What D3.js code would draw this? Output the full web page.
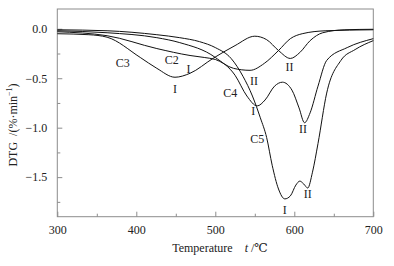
<!DOCTYPE html>
<html>
<head>
<meta charset="utf-8">
<script src="https://cdn.jsdelivr.net/npm/d3@7"></script>
<style>
  body { margin: 0; background: #fff; }
  svg { display: block; font-family: "Liberation Serif", "DejaVu Serif", serif; }
</style>
</head>
<body>
<svg id="chart" width="394" height="266"></svg>
<script>
// temperature (°C) / DTG (%·min-1)
const c2 = [[300,-0.03],[363,-0.07],[426,-0.20],[468,-0.27],[486,-0.29],[500,-0.31],[523,-0.40],[544,-0.42],[562,-0.35],[580,-0.22],[595,-0.10],[610,-0.05],[640,-0.02],[700,-0.01]];
const c3 = [[300,-0.05],[340,-0.06],[363,-0.085],[405,-0.29],[426,-0.40],[449,-0.49],[468,-0.45],[497,-0.30],[525,-0.17],[550,-0.075],[565,-0.11],[580,-0.22],[595,-0.30],[607,-0.24],[620,-0.12],[636,-0.04],[664,-0.01],[700,-0.005]];
const c4 = [[300,-0.02],[363,-0.04],[426,-0.09],[455,-0.14],[500,-0.29],[525,-0.47],[540,-0.68],[553,-0.78],[563,-0.72],[575,-0.58],[585,-0.54],[597,-0.62],[606,-0.80],[613,-0.95],[620,-0.85],[630,-0.58],[641,-0.32],[667,-0.19],[700,-0.10]];
const c5 = [[300,-0.01],[363,-0.02],[426,-0.06],[455,-0.09],[480,-0.13],[500,-0.19],[520,-0.30],[535,-0.48],[547,-0.68],[557,-0.90],[565,-1.10],[572,-1.38],[580,-1.62],[588,-1.72],[595,-1.69],[602,-1.58],[607,-1.54],[612,-1.57],[617,-1.61],[623,-1.45],[630,-1.16],[641,-0.65],[659,-0.32],[677,-0.21],[700,-0.12]];
const series = [c2, c3, c4, c5];

const xTicks = [300, 400, 500, 600, 700];
const xMinor = [350, 450, 550, 650];
const yTicks = [0, -0.5, -1.0, -1.5];
const yMinor = [-0.25, -0.75, -1.25, -1.75];

// curve labels [text, temperature, DTG]
const labels = [
  ["C3", 383, -0.34], ["C2", 445, -0.31], ["I", 466, -0.40], ["I", 449, -0.61],
  ["II", 549, -0.53], ["II", 594, -0.38], ["C4", 519, -0.65], ["I", 548, -0.83],
  ["II", 611, -1.01], ["C5", 553, -1.11], ["I", 588, -1.83], ["II", 617, -1.67]
];

const svg = d3.select("#chart");
const x = d3.scaleLinear().domain([300, 700]).range([57.3, 373.3]);
const y = d3.scaleLinear().domain([-1.9, 0.2]).range([216.7, 9]);
const frame = "#8c8c8c";

svg.append("rect")
  .attr("x", x(300)).attr("y", y(0.2))
  .attr("width", x(700) - x(300)).attr("height", y(-1.9) - y(0.2))
  .attr("fill", "none").attr("stroke", frame).attr("stroke-width", 1);

svg.append("g").attr("transform", `translate(0,${y(-1.9)})`)
  .call(d3.axisBottom(x).tickValues(xTicks).tickSize(-5).tickPadding(9).tickFormat(d3.format("d")));
svg.append("g").attr("transform", `translate(0,${y(-1.9)})`)
  .call(d3.axisBottom(x).tickValues(xMinor).tickSize(-3).tickFormat(""));
svg.append("g").attr("transform", `translate(${x(300)},0)`)
  .call(d3.axisLeft(y).tickValues(yTicks).tickSize(-5).tickPadding(10).tickFormat(d3.format(".1f")));
svg.append("g").attr("transform", `translate(${x(300)},0)`)
  .call(d3.axisLeft(y).tickValues(yMinor).tickSize(-3).tickFormat(""));

svg.selectAll(".domain").remove();
svg.selectAll(".tick line").attr("stroke", frame);
svg.selectAll(".tick text")
  .attr("font-family", "Liberation Serif, serif").attr("font-size", 12).attr("fill", "#222");

const line = d3.line()
  .x(d => x(d[0])).y(d => y(d[1]))
  .curve(d3.curveMonotoneX);

svg.append("g").selectAll("path").data(series).join("path")
  .attr("d", line)
  .attr("fill", "none").attr("stroke", "#111").attr("stroke-width", 1);

svg.append("g").selectAll("text").data(labels).join("text")
  .attr("x", d => x(d[1])).attr("y", d => y(d[2]))
  .attr("text-anchor", "middle").attr("dy", "0.35em")
  .attr("font-size", 12).attr("fill", "#222")
  .text(d => d[0]);

const xt = svg.append("text").attr("x", 220).attr("y", 252)
  .attr("text-anchor", "middle").attr("font-size", 12).attr("fill", "#222");
xt.append("tspan").text("Temperature\u00a0\u00a0\u00a0\u00a0");
xt.append("tspan").attr("font-style", "italic").text("t");
xt.append("tspan").text(" /\u2103");

const yt = svg.append("text")
  .attr("transform", "translate(17,125) rotate(-90)")
  .attr("text-anchor", "middle").attr("font-size", 12).attr("fill", "#222");
yt.append("tspan").text("DTG\u00a0\u00a0/(%\u00b7min");
yt.append("tspan").attr("font-size", 8).attr("dy", -5).text("\u22121");
yt.append("tspan").attr("dy", 5).text(")");
</script>
</body>
</html>
